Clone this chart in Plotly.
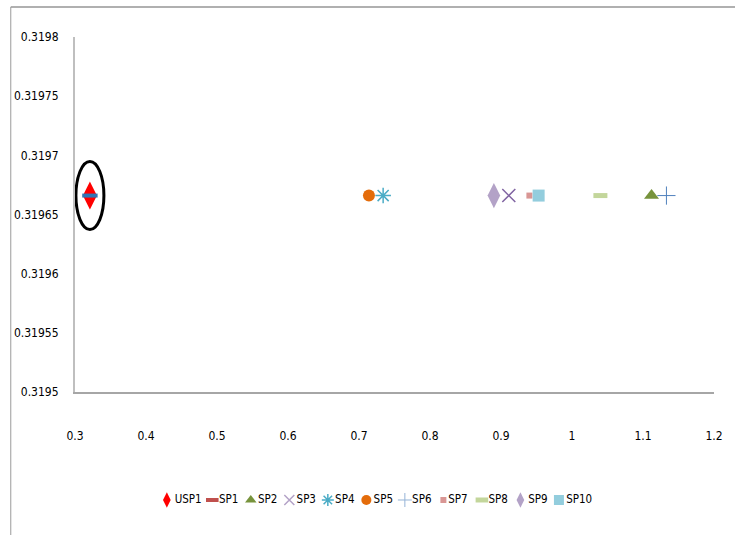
import plotly.graph_objects as go

series = ["USP1", "SP1", "SP2", "SP3", "SP4", "SP5", "SP6", "SP7", "SP8", "SP9", "SP10"]
x_vals = [0.321, 0.321, 1.112, 0.911, 0.734, 0.714, 1.133, 0.940, 1.040, 0.890, 0.953]
y_vals = [0.319666] * 11
legend_colors = ["#FF0000", "#C0504D", "#77933C", "#B3A2C7", "#4BACC6", "#E46C0A",
                 "#95B3D7", "#D99694", "#C3D69B", "#B3A2C7", "#93CDDD"]
plot_colors = ["#FF0000", "#2E75B6", "#77933C", "#8064A2", "#4BACC6", "#E46C0A",
               "#4F81BD", "#D99694", "#C3D69B", "#B3A2C7", "#93CDDD"]
symbols = ["diamond-tall", "line-ew", "triangle-up", "x-thin-open", "asterisk-open",
           "circle", "cross-thin-open", "square", "line-ew", "diamond-tall", "square"]
plot_sizes = [20, 11, 13, 13, 13, 12, 13, 6, 10, 18, 12]
legend_sizes = [11, 9, 10, 10, 10, 10, 10, 6, 9, 11, 10]
line_w = [0, 4, 0, 1.5, 1.5, 0, 1, 0, 5, 0, 0]

y_ticks = [0.3195, 0.31955, 0.3196, 0.31965, 0.3197, 0.31975, 0.3198]
y_text = ["0.3195", "0.31955", "0.3196", "0.31965", "0.3197", "0.31975", "0.3198"]
x_ticks = [0.3, 0.4, 0.5, 0.6, 0.7, 0.8, 0.9, 1.0, 1.1, 1.2]
x_text = ["0.3", "0.4", "0.5", "0.6", "0.7", "0.8", "0.9", "1", "1.1", "1.2"]

LINE_SYMS = ("line-ew", "x-thin-open", "asterisk-open", "cross-thin-open")


def make_marker(i, color, size):
    m = dict(symbol=symbols[i], size=size, color=color)
    if symbols[i] in LINE_SYMS:
        m["line"] = dict(width=line_w[i], color=color)
    else:
        m["line"] = dict(width=0)
    return m


fig = go.Figure()
for i, name in enumerate(series):
    fig.add_trace(go.Scatter(x=[x_vals[i]], y=[y_vals[i]], mode="markers", name=name,
                             marker=make_marker(i, plot_colors[i], plot_sizes[i]),
                             xaxis="x", yaxis="y", showlegend=False))

# custom legend row: entries laid out in pixel units by label length
font_family = "DejaVu Sans Condensed, Liberation Sans Narrow, Liberation Sans, sans-serif"
legend_pos = []
acc = 0
for name in series:
    legend_pos.append(acc)
    acc += 18 + 7 * len(name)

for i, name in enumerate(series):
    fig.add_trace(go.Scatter(x=[legend_pos[i]], y=[0], mode="markers+text", text=[name],
                             textposition="middle right",
                             textfont=dict(size=11.5, color="#000000", family=font_family),
                             marker=make_marker(i, legend_colors[i], legend_sizes[i]),
                             xaxis="x2", yaxis="y2", showlegend=False, hoverinfo="skip"))

# ellipse around USP1
fig.add_shape(type="circle", xref="x", yref="y", xsizemode="pixel", ysizemode="pixel",
              xanchor=x_vals[0], yanchor=y_vals[0], x0=-14, x1=14, y0=-34, y1=34,
              line=dict(color="black", width=3))

# outer chart border
fig.add_shape(type="line", xref="paper", yref="paper", x0=-0.1005, x1=1.1, y0=1.0628, y1=1.0628,
              line=dict(color="#B0B0B0", width=2))
fig.add_shape(type="line", xref="paper", yref="paper", x0=-0.1005, x1=-0.1005, y0=-0.1, y1=1.0628,
              line=dict(color="#9A9A9A", width=1))

fig.update_layout(
    width=735, height=535,
    margin=dict(l=75, r=13, t=37, b=20),
    paper_bgcolor="white", plot_bgcolor="white",
    font=dict(family=font_family, size=12, color="#000000"),
    showlegend=False,
    xaxis=dict(range=[0.3, 1.2], tickvals=x_ticks, ticktext=x_text, showgrid=False,
               zeroline=False, showline=True, linecolor="#A6A6A6", linewidth=2,
               ticks="", ticklabelstandoff=32, anchor="y"),
    yaxis=dict(range=[0.3195, 0.3198], tickvals=y_ticks, ticktext=y_text, showgrid=False,
               zeroline=False, showline=True, linecolor="#BFBFBF", linewidth=2,
               ticks="", ticklabelstandoff=12, domain=[0.2573, 1], anchor="x"),
    xaxis2=dict(range=[-93, 554], visible=False, domain=[0, 1], anchor="y2"),
    yaxis2=dict(range=[-1, 1], visible=False, domain=[0, 0.0628], anchor="x2"),
)
fig.write_html("out.html")
